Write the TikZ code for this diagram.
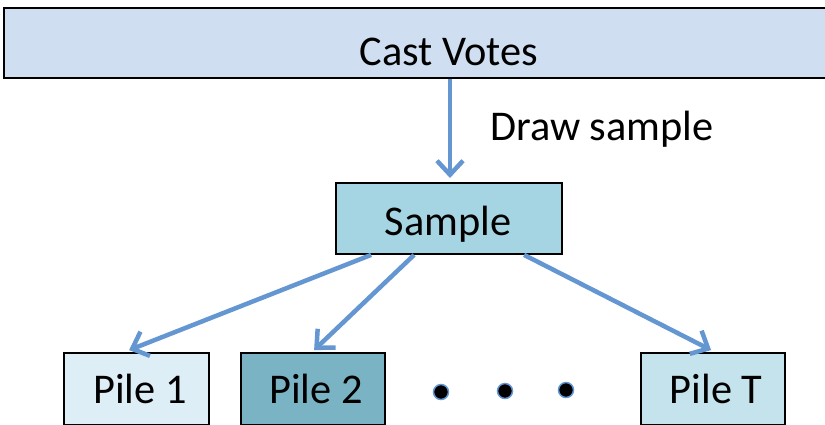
\documentclass[tikz,border=0pt]{standalone}
\usepackage{fontspec}
\setmainfont{Carlito}
\usetikzlibrary{arrows.meta,calc}
\definecolor{castfill}{RGB}{207,223,241}
\definecolor{samplefill}{RGB}{165,213,227}
\definecolor{pileone}{RGB}{222,238,246}
\definecolor{piletwo}{RGB}{122,180,196}
\definecolor{pilet}{RGB}{196,227,237}
\definecolor{arrowblue}{RGB}{100,150,210}
\tikzset{
  bigfont/.style={font=\fontsize{42.5}{50}\selectfont},
  boxstyle/.style={draw=black, line width=1.8bp, inner sep=0pt},
  lbl/.style={bigfont, anchor=base, inner sep=0pt},
  conn/.style={draw=arrowblue, line width=4.5bp, -{Straight Barb[length=14bp,width=26bp,line width=4.5bp]}},
  dotstyle/.style={circle, fill=black, draw=arrowblue, line width=1.5bp, minimum size=15bp, inner sep=0pt}
}
\begin{document}
\begin{tikzpicture}[x=1bp,y=-1bp]
\useasboundingbox (0,0) rectangle (825,424);
\node[boxstyle, fill=castfill, minimum width=824bp, minimum height=70bp] (cast) at (416,43) {};
\node[lbl] (castlabel) at (449,65) {Cast Votes};
\node[boxstyle, fill=samplefill, minimum width=226bp, minimum height=71bp] (sample) at (449,218.5) {};
\node[lbl] (samplelabel) at (448,235) {Sample};
\node[boxstyle, fill=pileone, minimum width=145bp, minimum height=72bp] (p1) at (136.5,389) {};
\node[lbl] (p1label) at (140,403) {Pile 1};
\node[boxstyle, fill=piletwo, minimum width=144bp, minimum height=72bp] (p2) at (313,389) {};
\node[lbl] (p2label) at (316,403) {Pile 2};
\node[boxstyle, fill=pilet, minimum width=144bp, minimum height=72bp] (pT) at (713,389) {};
\node[lbl] (pTlabel) at (716,403) {Pile T};
\node[bigfont, anchor=base west, inner sep=0pt] (drawlbl) at (490,140) {Draw sample};
\node[dotstyle] (d1) at (441,392) {};
\node[dotstyle] (d2) at (505,391) {};
\node[dotstyle] (d3) at (566,390) {};
\coordinate (a0) at (cast.south -| 450,0);
\coordinate (a1) at (450,178);
\draw[conn] (a0) -- (a1);
\coordinate (s1) at ($(sample.south west)+(36,0)$);
\coordinate (s2) at ($(sample.south west)+(79,0)$);
\coordinate (s3) at ($(sample.south west)+(189,0)$);
\coordinate (t1) at ($(p1.north west)+(66,-2)$);
\coordinate (t2) at ($(p2.north west)+(74,-2)$);
\coordinate (t3) at ($(pT.north west)+(71,-2)$);
\draw[conn] (s1) -- (t1);
\draw[conn] (s2) -- (t2);
\draw[conn] (s3) -- (t3);
\end{tikzpicture}
\end{document}
